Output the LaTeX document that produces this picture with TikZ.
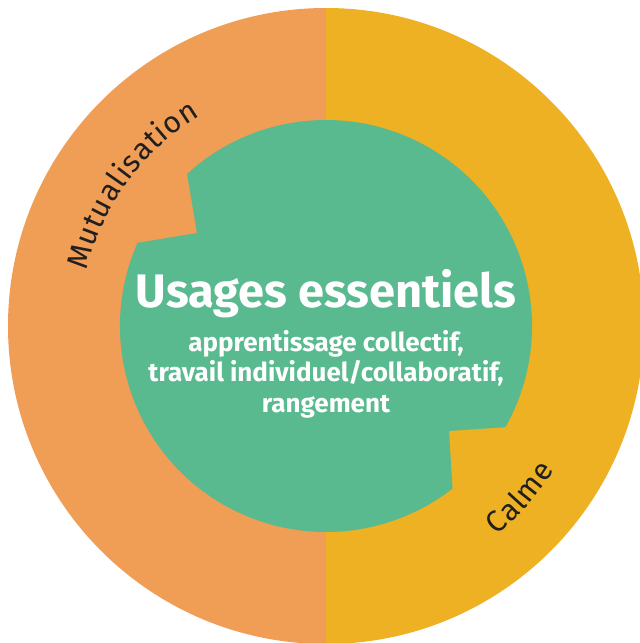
\documentclass[tikz,border=0pt]{standalone}
\usepackage{fontspec}
\setmainfont{Fira Sans}
\usetikzlibrary{decorations.text}
\definecolor{mutuorange}{HTML}{F09D55}
\definecolor{calmeyellow}{HTML}{EDB123}
\definecolor{usagegreen}{HTML}{59B98F}
\definecolor{labelink}{HTML}{1F1F1F}

\begin{document}
\begin{tikzpicture}[x=1pt,y=1pt,
    titletext/.style={text=white, inner sep=0pt, font=\fontsize{47}{50}\selectfont\bfseries},
    subtext/.style={text=white, inner sep=0pt, align=center, font=\fontsize{26}{30.5}\selectfont\bfseries},
    ringlabel/.style={decorate, decoration={text effects along path, text={#1}, text align=center,
        text effects/.cd, text along path, character widths={inner xsep=0.4pt, font=\fontsize{30}{30}\selectfont},
        characters={text=labelink, font=\fontsize{30}{30}\selectfont}}}]
        \useasboundingbox (-326,-317) rectangle (314,326);

        % outer ring
        \fill[mutuorange] (0,318) arc (90:270:318) -- cycle;
        \fill[calmeyellow] (0,-318) arc (-90:90:318) -- cycle;

        % inner disc with its two notches
        \fill[usagegreen] (156.2:206) arc (156.2:307.9:206) -- (123,-105) -- (-29.4:206)
            arc (-29.4:132.4:206) -- (-129,93) -- cycle;

        \node[titletext, anchor=base] (titre) at (0,19) {Usages essentiels};
        \node[subtext, anchor=north] (usages) at (0,-4) {apprentissage collectif,\\travail individuel/collaboratif,\\rangement};

        \path[ringlabel=Mutualisation] (180:245) arc (180:108:245);
        \path[ringlabel=Calme] (-80:270) arc (-80:-3:270);
    \end{tikzpicture}
\end{document}
